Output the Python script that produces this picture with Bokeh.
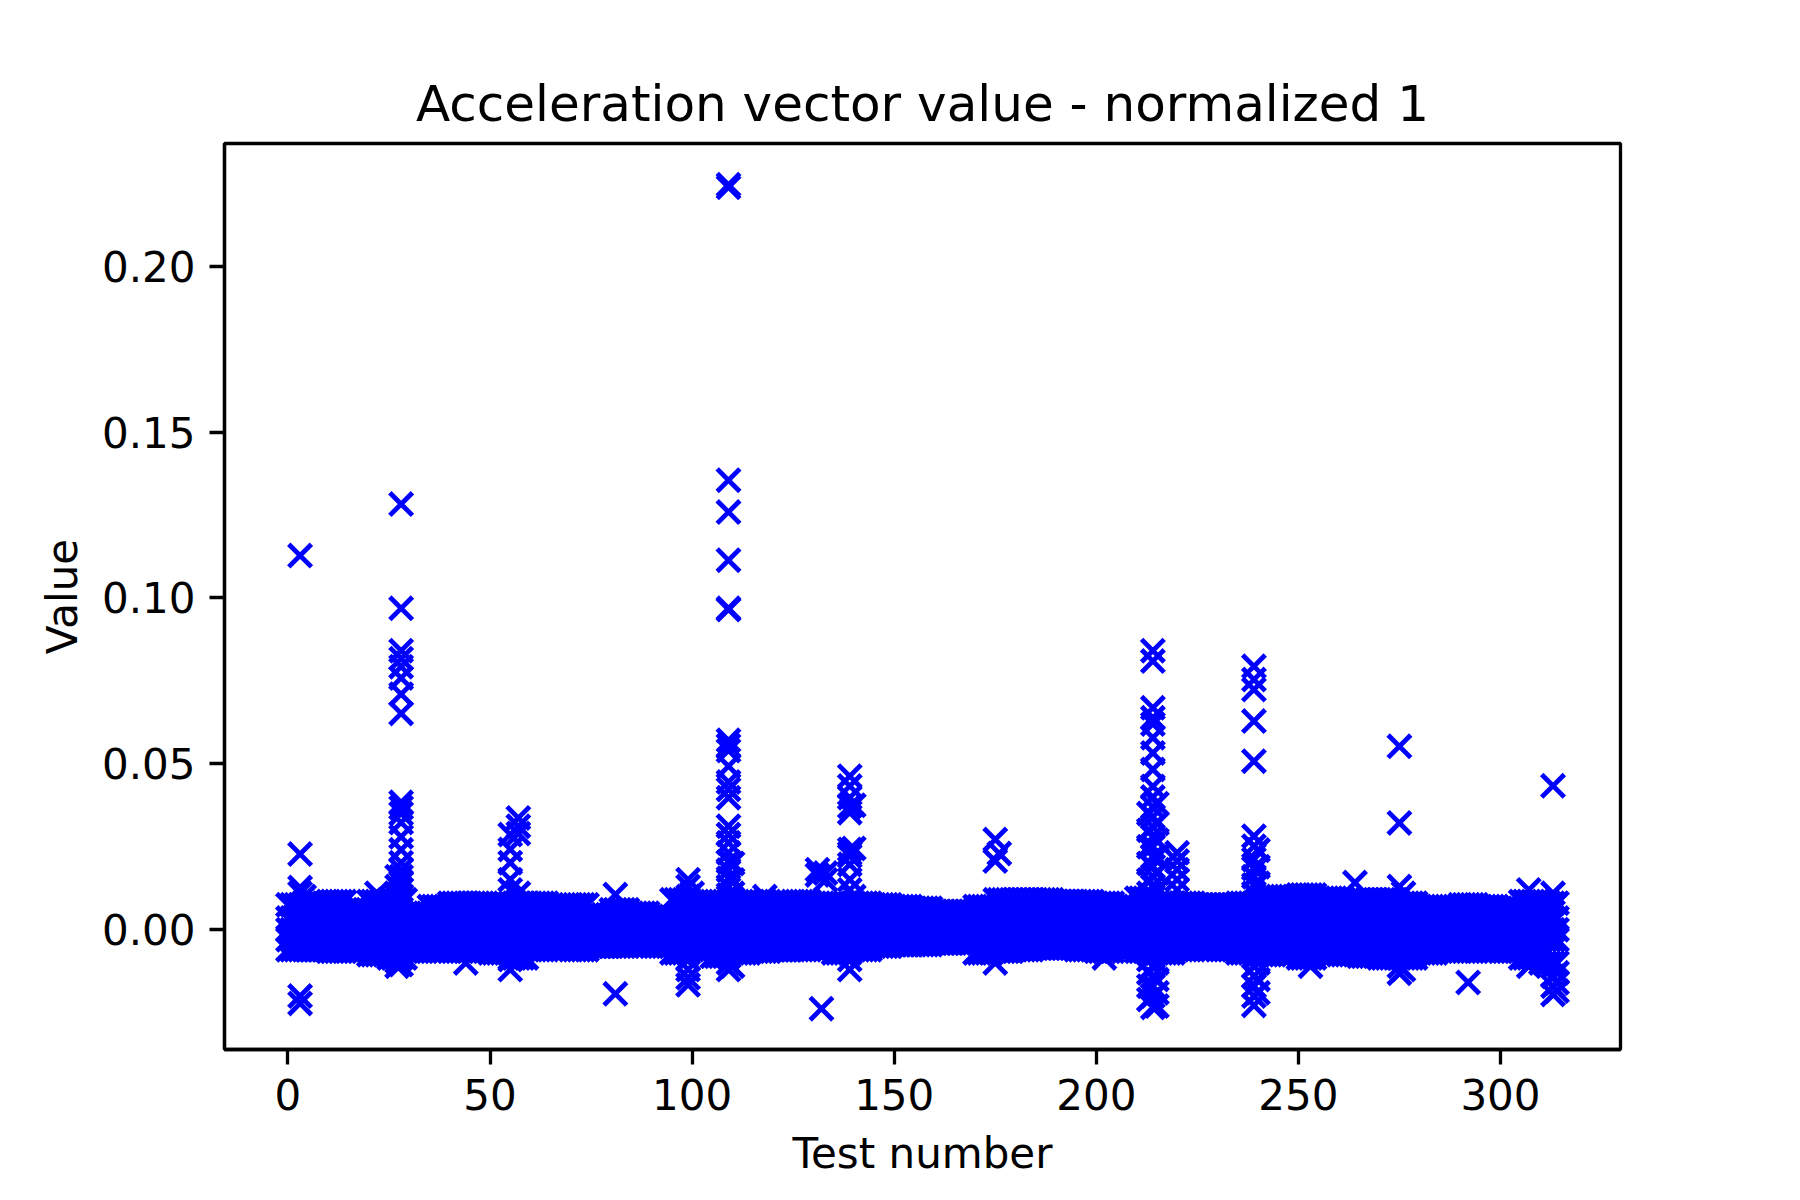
from bokeh.plotting import figure
from bokeh.models import Range1d, FixedTicker, NumeralTickFormatter
from bokeh.embed import file_html
from bokeh.resources import INLINE

# ordinary readings: band envelope read per block of 5 tests
block_start = list(range(0, 315, 5))
band_top = [0.0075, 0.008, 0.0085, 0.006, 0.0085, 0.009, 0.005, 0.007, 0.008, 0.008,
            0.0075, 0.008, 0.008, 0.007, 0.0075, 0.0045, 0.006, 0.005, 0.004, 0.009,
            0.008, 0.0085, 0.008, 0.0085, 0.008, 0.0085, 0.0075, 0.008, 0.008, 0.0075,
            0.007, 0.0065, 0.0055, 0.0055, 0.007, 0.009, 0.009, 0.009, 0.0085, 0.0085,
            0.008, 0.007, 0.0095, 0.008, 0.008, 0.0075, 0.0075, 0.008, 0.009, 0.0100,
            0.0105, 0.0095, 0.0085, 0.009, 0.009, 0.008, 0.007, 0.0065, 0.0075, 0.007,
            0.0065, 0.0085, 0.008]
band_bottom = [-0.006, -0.006, -0.0065, -0.006, -0.0075, -0.0085, -0.0065, -0.006, -0.0065, -0.006,
               -0.007, -0.0085, -0.006, -0.0055, -0.006, -0.005, -0.005, -0.0045, -0.005, -0.007,
               -0.006, -0.008, -0.007, -0.0065, -0.006, -0.006, -0.0055, -0.007, -0.006, -0.005,
               -0.0045, -0.0045, -0.004, -0.004, -0.007, -0.0065, -0.006, -0.0055, -0.0055, -0.006,
               -0.0065, -0.0055, -0.0065, -0.007, -0.006, -0.0055, -0.006, -0.007, -0.0075, -0.007,
               -0.0085, -0.007, -0.0075, -0.008, -0.0085, -0.0085, -0.007, -0.006, -0.0065, -0.006,
               -0.0065, -0.0085, -0.01]
band_core = [0.0035, 0.0, -0.003]
last_test = 314

# readings standing out of the band
spike_test = ([3] * 6 + [4, 22] + [27] * 5 + [28] * 22 + [44] + [55] * 7 + [57] * 4
              + [81] * 2 + [99] * 7 + [100] + [109] * 26 + [110] * 4 + [118]
              + [131] * 2 + [133] * 2 + [132] + [139] * 13 + [140] * 3
              + [175] * 3 + [176, 202] + [214] * 26 + [213] * 10 + [215] * 10
              + [220] * 5 + [239] * 18 + [240] * 6 + [253, 264] + [275] * 5
              + [276] * 2 + [292] + [307] * 2 + [313] * 6 + [314] * 3)
spike_value = ([0.1128, 0.0228, 0.0127, 0.0110, -0.0200, -0.0222, 0.0100, 0.0110]
               + [0.0160, 0.0130, 0.0100, -0.0095, -0.0110]
               + [0.1283, 0.0969, 0.0841, 0.0817, 0.0793, 0.0759, 0.0710, 0.0652, 0.0384, 0.0368, 0.0350,
                  0.0323, 0.0280, 0.0241, 0.0202, 0.0180, 0.0160, 0.0140, 0.0120, 0.0100, -0.0080, -0.0105]
               + [-0.0100]
               + [0.0287, 0.0242, 0.0202, 0.0151, 0.0120, -0.0090, -0.0120]
               + [0.0337, 0.0312, 0.0290, 0.0110]
               + [0.0106, -0.0193]
               + [0.0151, 0.0130, 0.0100, -0.0090, -0.0120, -0.0145, -0.0166]
               + [0.0110]
               + [0.2246, 0.2238, 0.1355, 0.1259, 0.1114, 0.0969, 0.0965, 0.0571, 0.0555, 0.0540, 0.0493,
                  0.0445, 0.0423, 0.0398, 0.0312, 0.0287, 0.0262, 0.0232, 0.0205, 0.0180, 0.0155, 0.0130,
                  0.0105, -0.0080, -0.0100, -0.0120]
               + [0.0200, 0.0150, 0.0110, -0.0110]
               + [0.0100]
               + [0.0181, 0.0165, 0.0171, 0.0150, -0.0238]
               + [0.0463, 0.0433, 0.0398, 0.0372, 0.0353, 0.0242, 0.0230, 0.0222, 0.0197, 0.0151, 0.0120,
                  -0.0090, -0.0120]
               + [0.0375, 0.0245, 0.0100]
               + [0.0272, 0.0207, -0.0100, 0.0230, -0.0085]
               + [0.0841, 0.0810, 0.0669, 0.0639, 0.0620, 0.0579, 0.0533, 0.0483, 0.0432, 0.0400, 0.0370,
                  0.0340, 0.0310, 0.0280, 0.0250, 0.0220, 0.0190, 0.0160, 0.0130, 0.0100, -0.0080, -0.0110,
                  -0.0140, -0.0170, -0.0200, -0.0234]
               + [0.0350, 0.0300, 0.0250, 0.0200, 0.0150, 0.0110, -0.0090, -0.0130, -0.0170, -0.0210]
               + [0.0380, 0.0320, 0.0270, 0.0220, 0.0170, 0.0120, -0.0100, -0.0150, -0.0190, -0.0230]
               + [0.0232, 0.0207, 0.0181, 0.0151, 0.0120]
               + [0.0794, 0.0754, 0.0724, 0.0629, 0.0508, 0.0282, 0.0252, 0.0212, 0.0185, 0.0160, 0.0135,
                  0.0110, -0.0080, -0.0110, -0.0140, -0.0170, -0.0200, -0.0228]
               + [0.0240, 0.0190, 0.0140, -0.0100, -0.0150, -0.0190]
               + [-0.0110, 0.0142]
               + [0.0553, 0.0322, 0.0130, -0.0110, -0.0131]
               + [0.0110, -0.0120, -0.0159, 0.0120, -0.0110]
               + [0.0434, 0.0110, -0.0110, -0.0140, -0.0170, -0.0195]
               + [-0.0130, -0.0160, -0.0185])

x_ticks = [0, 50, 100, 150, 200, 250, 300]
y_ticks = [0.0, 0.05, 0.10, 0.15, 0.20]

xs, ys = [], []
for i, start in enumerate(block_start):
    for t in range(start, min(start + 5, last_test + 1)):
        for v in [band_top[i]] + band_core + [band_bottom[i]]:
            xs.append(t)
            ys.append(v)
xs += spike_test
ys += spike_value

p = figure(frame_width=1396, frame_height=906,
           x_range=Range1d(-15.7, 329.7), y_range=Range1d(-0.0361, 0.2370),
           title="Acceleration vector value - normalized 1",
           x_axis_label="Test number", y_axis_label="Value",
           output_backend="svg", toolbar_location=None,
           min_border_left=224, min_border_right=164,
           min_border_top=143, min_border_bottom=135)

p.scatter(xs, ys, marker="x", size=32, line_color="#0000ff", line_width=4.8)

p.grid.visible = False
p.outline_line_color = "black"
p.outline_line_width = 3.3
p.background_fill_color = "white"
p.border_fill_color = "white"

p.title.align = "center"
p.title.text_font = "DejaVu Sans"
p.title.text_font_size = "50px"
p.title.text_font_style = "normal"
p.title.text_color = "black"
p.title.standoff = 22

p.xaxis.ticker = FixedTicker(ticks=x_ticks)
p.yaxis.ticker = FixedTicker(ticks=y_ticks)
p.yaxis.formatter = NumeralTickFormatter(format="0.00")
for ax in p.axis:
    ax.axis_line_width = 3.3
    ax.axis_line_color = "black"
    ax.major_tick_line_width = 3.3
    ax.major_tick_line_color = "black"
    ax.major_tick_out = 15
    ax.major_tick_in = 0
    ax.minor_tick_out = 0
    ax.minor_tick_in = 0
    ax.major_label_text_font = "DejaVu Sans"
    ax.major_label_text_font_size = "42px"
    ax.major_label_text_color = "black"
    ax.major_label_standoff = 14
    ax.axis_label_text_font = "DejaVu Sans"
    ax.axis_label_text_font_size = "42px"
    ax.axis_label_text_font_style = "normal"
    ax.axis_label_text_color = "black"
    ax.axis_label_standoff = 16
p.yaxis.axis_label_standoff = 12

open("out.html", "w").write(file_html(p, INLINE))
